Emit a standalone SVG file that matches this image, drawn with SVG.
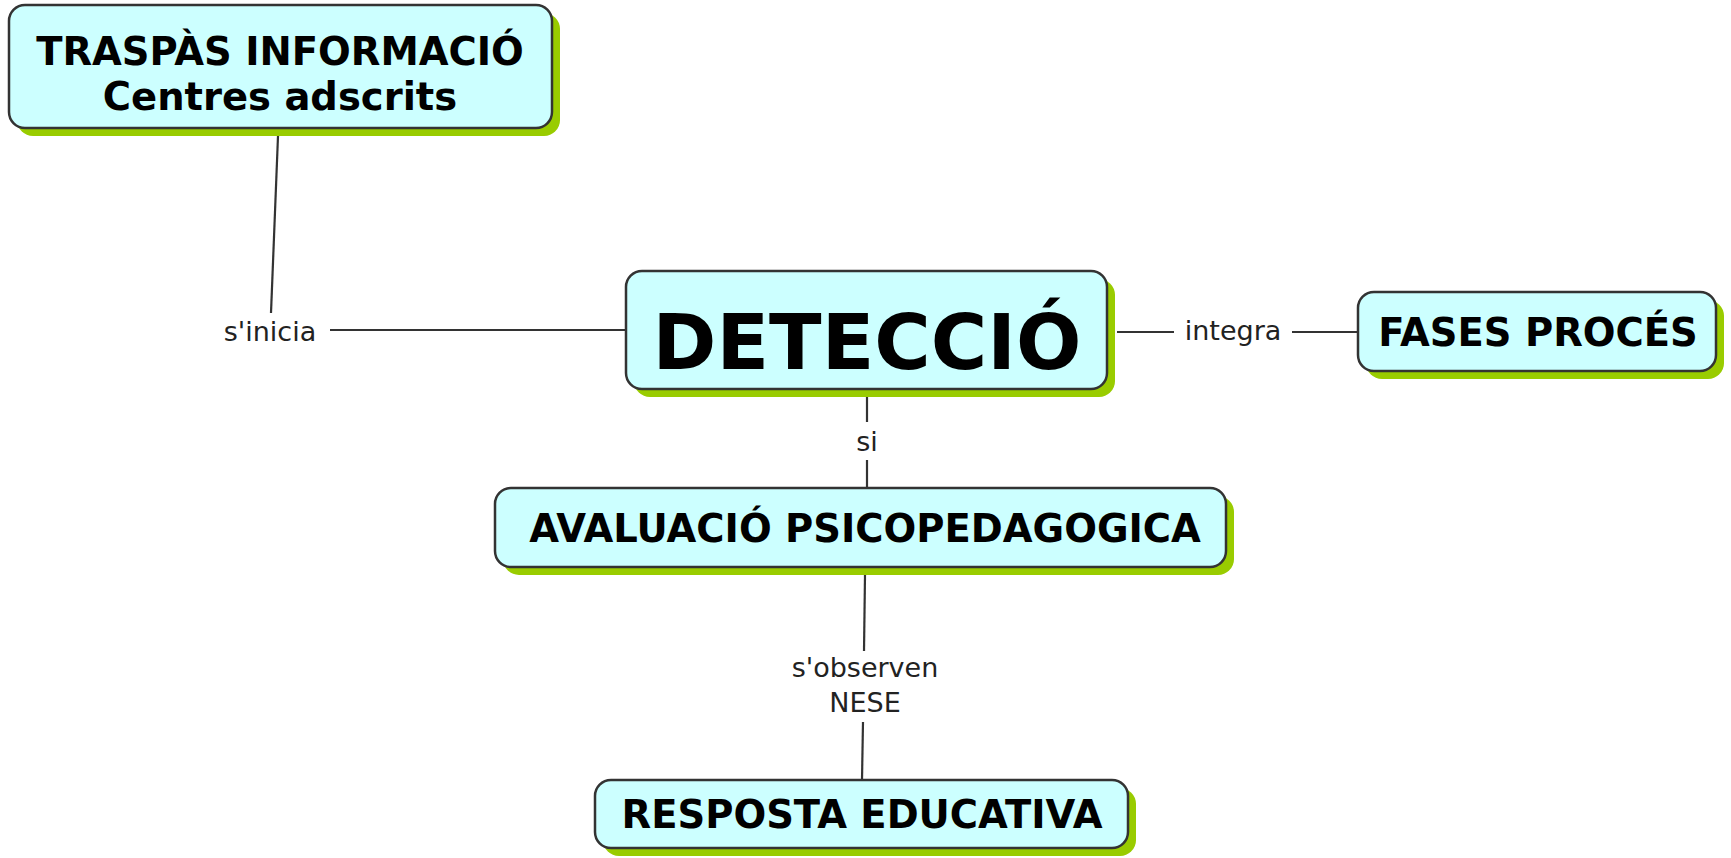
<svg xmlns="http://www.w3.org/2000/svg" width="1731" height="858" viewBox="0 0 1731 858">
  <style>
    .shadow { fill: #99cc00; }
    .box { fill: #ccffff; stroke: #333333; stroke-width: 2.5; }
    .node { font-family: "DejaVu Sans", Verdana, sans-serif; font-weight: bold; font-size: 38.5px; fill: #000000; text-anchor: middle; }
    .big { font-size: 77px; }
    .lbl { font-family: "DejaVu Sans", Verdana, sans-serif; font-size: 27px; fill: #222222; text-anchor: middle; }
    .link { stroke: #333333; stroke-width: 2.2; fill: none; }
  </style>
  <rect width="1731" height="858" fill="#ffffff"/>

  <g id="connectors">
    <line class="link" x1="278" y1="136" x2="271" y2="313"/>
    <line class="link" x1="330" y1="330" x2="626" y2="330"/>
    <text class="lbl" x="270" y="341">s'inicia</text>

    <line class="link" x1="1117" y1="332" x2="1174" y2="332"/>
    <line class="link" x1="1292" y1="332" x2="1358" y2="332"/>
    <text class="lbl" x="1233" y="340">integra</text>

    <line class="link" x1="867" y1="397" x2="867" y2="422"/>
    <line class="link" x1="867" y1="460" x2="867" y2="487"/>
    <text class="lbl" x="867" y="451">si</text>

    <line class="link" x1="865" y1="575" x2="864" y2="651"/>
    <line class="link" x1="863" y1="722" x2="862" y2="780"/>
    <text class="lbl" x="865" y="677">s'observen</text>
    <text class="lbl" x="865" y="712">NESE</text>
  </g>

  <g id="node-traspas">
    <rect class="shadow" x="17" y="13" width="543" height="123" rx="16"/>
    <rect class="box" x="9" y="5" width="543" height="123" rx="16"/>
    <text class="node" x="280" y="65">TRASPÀS INFORMACIÓ</text>
    <text class="node" x="280" y="110">Centres adscrits</text>
  </g>

  <g id="node-deteccio">
    <rect class="shadow" x="634" y="279" width="481" height="118" rx="16"/>
    <rect class="box" x="626" y="271" width="481" height="118" rx="16"/>
    <text class="node big" x="867" y="369">DETECCIÓ</text>
  </g>

  <g id="node-fases">
    <rect class="shadow" x="1366" y="300" width="358" height="79" rx="16"/>
    <rect class="box" x="1358" y="292" width="358" height="79" rx="16"/>
    <text class="node" x="1538" y="346">FASES PROCÉS</text>
  </g>

  <g id="node-avaluacio">
    <rect class="shadow" x="503" y="496" width="731" height="79" rx="16"/>
    <rect class="box" x="495" y="488" width="731" height="79" rx="16"/>
    <text class="node" x="865" y="542">AVALUACIÓ PSICOPEDAGOGICA</text>
  </g>

  <g id="node-resposta">
    <rect class="shadow" x="603" y="788" width="533" height="68" rx="16"/>
    <rect class="box" x="595" y="780" width="533" height="68" rx="16"/>
    <text class="node" x="862" y="828">RESPOSTA EDUCATIVA</text>
  </g>
</svg>
